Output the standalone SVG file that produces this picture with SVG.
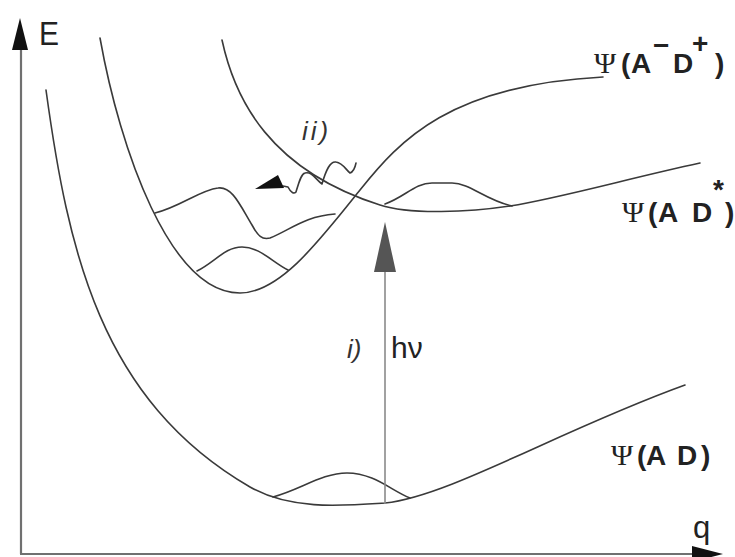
<svg xmlns="http://www.w3.org/2000/svg" width="735" height="557" viewBox="0 0 735 557">
<style>
.curve{fill:none;stroke:#3a3a3a;stroke-width:1.6;stroke-linejoin:round;stroke-linecap:round}
.axis{fill:none;stroke:#707070;stroke-width:2.2}
.lbl{font-family:"Liberation Sans",Arial,sans-serif;font-weight:bold;font-size:28px;fill:#222}
.psi{font-family:"Liberation Serif","Times New Roman",serif;font-weight:normal;font-size:30px;fill:#222}
.ax{font-family:"Liberation Sans",Arial,sans-serif;fill:#222}
.it{font-family:"Liberation Sans",Arial,sans-serif;font-style:italic;fill:#333}
</style>
<rect width="735" height="557" fill="#fff"/>
<g id="axes">
<line class="axis" x1="21" y1="48" x2="21" y2="554"/>
<line class="axis" x1="20" y1="554" x2="700" y2="554"/>
<polygon points="20,18 12,50 28,50" fill="#111"/>
<polygon points="723,554 692,546 692,562" fill="#111"/>
<text class="ax" x="39" y="45" font-size="34" textLength="20" lengthAdjust="spacingAndGlyphs">E</text>
<text class="ax" x="693" y="538" font-size="31">q</text>
</g>
<g id="ground">
<path class="curve" d="M46,90 C68,250 100,400 250,487 C290,510 340,506 385,503 C450,496 560,430 685,385"/>
<path class="curve" d="M273,497 C300,490 322,473 347,473 C374,473 392,491 410,498"/>
<text x="611" y="465"><tspan class="psi">Ψ</tspan><tspan class="lbl" x="637">(</tspan><tspan class="lbl" x="646">A</tspan><tspan class="lbl" x="677">D</tspan><tspan class="lbl" x="701">)</tspan></text>
</g>
<g id="ct-state">
<path class="curve" d="M100,38 C120,150 170,293 240,293 C280,293 320,240 360,190 C400,140 450,85 603,77"/>
<path class="curve" d="M197,271 C215,262 225,247 242,247 C260,247 272,262 288,270"/>
<path class="curve" d="M155,213 C180,207 200,190 218,188 C232,186 240,205 252,225 C258,236 262,240 270,238 C290,230 305,216 335,214"/>
<text x="594" y="73"><tspan class="psi">Ψ</tspan><tspan class="lbl" x="621">(</tspan><tspan class="lbl" x="631">A</tspan><tspan class="lbl" x="653" y="55" font-size="20">−</tspan><tspan class="lbl" x="673" y="73">D</tspan><tspan class="lbl" x="692" y="53" font-size="22">+</tspan><tspan class="lbl" x="715" y="73">)</tspan></text>
</g>
<g id="ad-star">
<path class="curve" d="M222,40 C235,100 270,170 380,205 C410,215 470,212 510,206 C560,198 630,178 700,163"/>
<path class="curve" d="M385,204 C405,197 415,183 432,183 L452,183 C470,183 485,200 512,206"/>
<text x="622" y="222"><tspan class="psi">Ψ</tspan><tspan class="lbl" x="648">(</tspan><tspan class="lbl" x="658">A</tspan><tspan class="lbl" x="692">D</tspan><tspan class="lbl" x="713" y="199" font-size="15">*</tspan><tspan class="lbl" x="725" y="222">)</tspan></text>
</g>
<g id="connectors">
<g id="excitation">
<line x1="385" y1="270" x2="385" y2="504" stroke="#8a8a8a" stroke-width="1.6"/>
<polygon points="385,222 374,272 396,272" fill="#555"/>
<text class="it" x="347" y="358" font-size="26">i)</text>
<text class="ax" x="391" y="358" font-size="30" fill="#333">hν</text>
</g>
<g id="transfer">
<path class="curve" d="M283,186 L288,187 C291,193 294,194 296,192 C299,182 301,174 305,173 C312,171 316,180 322,184 C326,170 330,161 336,162 C343,163 346,170 350,173 C353,172 355,168 356,163"/>
<polygon points="255,189 278,175 284,188" fill="#111"/>
<text class="it" x="302" y="140" font-size="26" letter-spacing="3">ii)</text>
</g>
</g>
</svg>
